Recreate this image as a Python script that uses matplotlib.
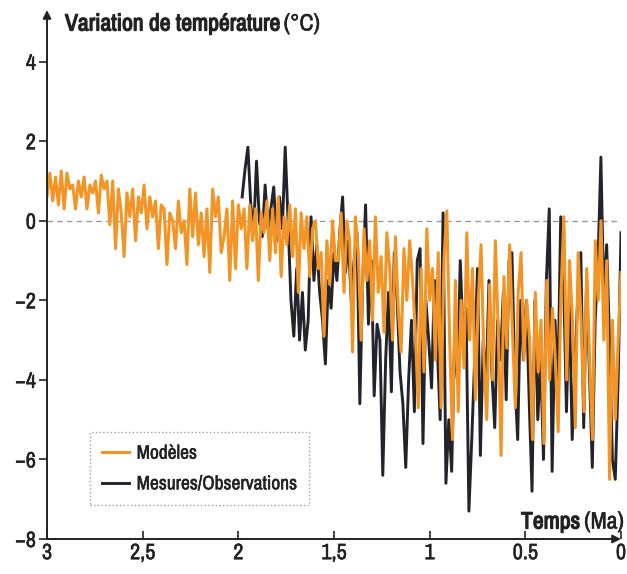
import numpy as np
import matplotlib
matplotlib.use("Agg")
import matplotlib.pyplot as plt
import matplotlib.patheffects as pe
from matplotlib import font_manager

# condensed face if the machine has one
names = sorted({f.name for f in font_manager.fontManager.ttflist})
cond = [n for n in names if 'Narrow' in n or 'Condensed' in n]
plt.rcParams['font.family'] = cond[:1] + ['DejaVu Sans']
plt.rcParams['font.stretch'] = 'condensed'

# Modèles (orange), from 3 Ma to 0 Ma
modeles = [
    0.6, 1.2, 0.5, 1.1, 0.4, 1.25, 0.3, 1.2, 0.8, 0.9, 0.3, 1.0, 0.6, 1.1, 0.3, 0.9, 0.7,
    1.0, 0.2, 1.15, 0.8, 1.0, -0.1, 1.0, -0.7, 0.8, 0.2, -0.9, 0.7, 0.1, 0.8, -0.5, 0.6, 0.2,
    0.9, -0.2, 0.6, 0.1, 0.5, -0.7, 0.4, 0.3, -1.1, 0.2, 0.0, -0.7, 0.5, -0.3, 0.0, -1.1, 0.8,
    -0.4, 0.7, -0.6, 0.2, -0.9, 0.3, -1.3, 0.8, 0.1, 0.6, -0.8, -0.4, 0.3, -1.5, 0.5, -1.2, 0.4,
    -0.2, 0.3, -1.2, 0.4, -0.5, 0.3, -1.5, 0.2, -0.3, 0.5, -1.0, 0.3, -0.8, 0.6, -1.4, 0.1, -0.6,
    0.4, -0.9, 0.3, -1.8, 0.2, -0.7, 0.1, -1.4, -0.2, 0.0, -1.2, -0.8, -2.9, -0.5, -1.6, 0.0, -1.0,
    -1.0, 0.2, -1.8, 0.0, -0.5, -3.3, 0.1, -0.8, -3.0, -0.2, -1.5, -0.5, -2.5, 0.1, -1.8, -0.9,
    -2.8, -0.3, -1.2, -3.0, -0.4, -2.2, -3.3, -0.7, -2.0, -0.5, -1.5, -2.8, -4.7, -1.2, -3.8, -0.2, -2.0,
    -1.2, -3.5, -0.8, -4.7, -1.0, 0.25, -3.0, -5.5, -1.5, -4.8, -2.0, -3.7, -0.3, -3.0, -1.2, -4.5,
    -2.0, -0.6, -3.5, -5.0, -1.6, -4.0, -0.5, -2.7, -5.9, -1.4, -3.2, -0.6, -2.8, -4.7, -1.8, -0.8, -3.5, -2.0,
    -3.0, -5.5, -1.8, -3.8, -2.5, -5.6, -1.5, -4.0, -2.2, -3.5, -5.3, -1.8, 0.1, -4.0, -1.0, -2.5,
    -5.2, -0.8, -2.5, -4.8, -1.2, -3.5, -5.5, -0.5, -2.0, 0.0, -3.0, -1.0, -6.5, -2.5, -5.0, -3.0, -1.3,
]

# Mesures/Observations (black), from 1.98 Ma to 0 Ma
mesures = [
    0.6, 1.3, 1.85, 0.4, -0.3, 1.5, 0.0, -0.4, 0.9, -0.2, 0.3, 0.85, -0.5, 0.6, -0.2, 1.85, 0.0,
    -2.0, -2.9, -1.2, -3.0, -1.8, -3.25, -2.5, 0.1, -1.5, -0.6, -1.8, -2.5, -3.6, -1.5, -2.2, -0.8,
    -1.5, -0.3, 0.6, -1.3, -0.5, -2.0, -1.0, -0.3, -4.6, -1.5, 0.4, -2.6, -1.0, -4.4, -2.6, -3.0,
    -6.4, -3.5, -1.8, -4.3, -0.8, -2.0, -3.8, -4.6, -6.2, -4.0, -2.5, -4.8, -1.0, -0.7, -5.6, -2.0, -3.0,
    -4.2, -1.5, -3.2, -5.0, 0.2, -6.6, -5.0, -6.3, -3.0, -4.0, -1.0, -3.0, -2.2, -7.3, -5.5, -3.5,
    -1.2, -5.9, -3.0, -4.2, -1.5, -3.8, -5.2, -2.5, -3.5, -1.8, -4.5, -1.0, -0.8, -4.0, -5.5, -2.0, -3.5, -2.0,
    -4.5, -6.8, -2.0, -5.0, -3.5, -6.0, -1.5, 0.3, -6.3, -2.5, -4.2, 0.1, -1.5, -4.8, -2.0, -5.5,
    -3.5, -1.8, -0.8, -5.2, -1.5, -3.8, -6.2, -2.5, -1.0, 1.6, -2.0, -0.6, -3.0, -6.0, -6.5, -4.0, -0.3,
]

t_modeles = np.linspace(3.0, 0.0, len(modeles))
t_mesures = np.linspace(1.98, 0.0, len(mesures))

xticks = [3, 2.5, 2, 1.5, 1, 0.5, 0]
xticklabels = ['3', '2,5', '2', '1,5', '1', '0.5', '0']
yticks = [-8, -6, -4, -2, 0, 2, 4]
yticklabels = ['\u22128', '\u22126', '\u22124', '\u22122', '0', '2', '4']

orange = '#f39526'
dark = '#23232b'
ink = '#222222'
thick = [pe.withStroke(linewidth=0.9, foreground=ink)]
semi = [pe.withStroke(linewidth=0.35, foreground=ink)]

fig = plt.figure(figsize=(6.27, 5.74), dpi=100)
ax = fig.add_axes([47/627, 1 - 539/574, 574/627, 529/574])

ax.plot([3, 0], [0, 0], color='#9a9a9a', lw=1, dashes=(4, 3))
ax.plot(t_mesures, mesures, color=dark, lw=2.1, label='Mesures/Observations')
ax.plot(t_modeles, modeles, color=orange, lw=2.2, label='Modèles')

ax.set_xlim(3, 0)
ax.set_ylim(-8, 5.3)

for s in ax.spines.values():
    s.set_visible(False)

ax.annotate('', xy=(0, 1), xytext=(0, 0), xycoords='axes fraction',
            arrowprops=dict(arrowstyle='-|>', color=ink, lw=1.4, mutation_scale=12,
                            shrinkA=0, shrinkB=0))
ax.annotate('', xy=(1, 0), xytext=(0, 0), xycoords='axes fraction',
            arrowprops=dict(arrowstyle='-|>', color=ink, lw=1.4, mutation_scale=12,
                            shrinkA=0, shrinkB=0))

ax.set_xticks(xticks)
ax.set_xticklabels(xticklabels)
ax.set_yticks(yticks)
ax.set_yticklabels(yticklabels)
ax.tick_params(axis='x', direction='in', length=6, width=1.2, labelsize=16, pad=3, colors=ink)
ax.tick_params(axis='y', direction='out', length=6, width=1.2, labelsize=16, pad=2, colors=ink)
for lab in ax.get_xticklabels() + ax.get_yticklabels():
    lab.set_path_effects(semi)

handles, labels = ax.get_legend_handles_labels()
leg = ax.legend(handles[::-1], labels[::-1], loc='lower left', bbox_to_anchor=(43/574, 34/529),
                fontsize=14, frameon=True, fancybox=False, handlelength=1.4, handletextpad=0.4,
                borderpad=0.6, labelspacing=0.6, borderaxespad=0)
leg.get_frame().set_edgecolor('#888888')
leg.get_frame().set_linestyle(':')
leg.get_frame().set_linewidth(1.0)
for txt in leg.get_texts():
    txt.set_color(ink)
    txt.set_path_effects(semi)

fig.canvas.draw()
r = fig.canvas.get_renderer()

t1 = fig.text(65/627, 1 - 24/574, 'Variation de température', fontsize=17, fontweight='bold',
              va='center', ha='left', color=ink, path_effects=thick)
bb = t1.get_window_extent(renderer=r)
fig.text((bb.x1 + 4) / 627, 1 - 24/574, '(°C)', fontsize=17, va='center', ha='left', color=ink,
         path_effects=semi)

t2 = fig.text(624/627, 1 - 522/574, '(Ma)', fontsize=17, va='center', ha='right', color=ink,
              path_effects=semi)
bb2 = t2.get_window_extent(renderer=r)
fig.text((bb2.x0 - 4) / 627, 1 - 522/574, 'Temps', fontsize=17, fontweight='bold',
         va='center', ha='right', color=ink, path_effects=thick)

fig.savefig('out.png', dpi=100)
